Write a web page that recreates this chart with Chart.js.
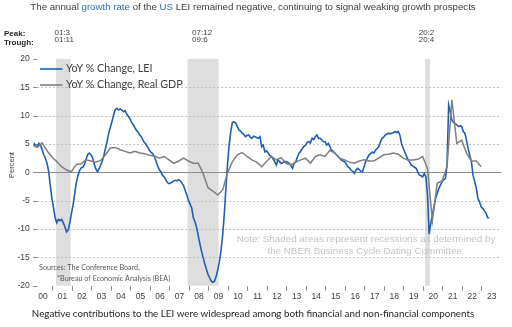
<!DOCTYPE html>
<html>
<head>
<meta charset="utf-8">
<script src="https://cdn.jsdelivr.net/npm/chart.js@4.4.1/dist/chart.umd.min.js"></script>
<style>
  html, body { margin: 0; padding: 0; background: #ffffff; }
  canvas { display: block; }
</style>
</head>
<body>
<canvas id="chart" width="512" height="327"></canvas>
<script>
// US LEI, year-over-year % change, monthly from Jan 2000 (one row per year)
const leiYoY = [
  5.2, 4.6, 4.6, 5.1, 4.8, 4.0, 3.1, 2.5, 1.6, 0.2, -2.3, -4.6,
  -6.2, -8.0, -8.9, -8.3, -8.5, -8.3, -8.9, -9.6, -10.5, -10.2, -8.9, -7.3,
  -5.8, -3.8, -1.8, -0.6, 0.3, 0.8, 0.9, 1.4, 2.3, 3.1, 3.4, 3.1,
  2.6, 1.5, 0.6, 0.1, 0.6, 1.3, 2.0, 3.0, 4.3, 5.5, 7.0, 8.0,
  9.0, 10.2, 11.1, 11.3, 11.0, 11.2, 11.0, 10.7, 10.9, 10.3, 9.9, 9.5,
  8.8, 8.4, 7.9, 7.4, 7.1, 6.6, 6.3, 5.7, 5.2, 4.9, 4.4, 3.9,
  3.5, 3.3, 2.8, 2.0, 1.2, 0.5, 0.1, -0.5, -0.8, -1.3, -1.8, -2.0,
  -1.9, -1.7, -1.5, -1.4, -1.5, -1.3, -1.5, -1.9, -2.4, -3.2, -4.0, -5.0,
  -5.6, -6.3, -8.0, -8.7, -9.7, -11.2, -12.6, -13.9, -15.0, -16.1, -17.1, -18.0,
  -18.6, -19.2, -19.4, -19.2, -18.4, -17.2, -15.8, -13.8, -11.1, -7.5, -2.8, 1.3,
  4.8, 7.2, 8.8, 8.9, 8.7, 8.1, 7.5, 7.3, 6.9, 6.7, 6.3, 6.5,
  6.6, 6.2, 6.0, 6.4, 6.3, 6.1, 6.0, 6.3, 4.5, 4.8, 3.6, 3.8,
  3.4, 3.0, 2.8, 2.4, 1.9, 1.3, 2.2, 1.9, 1.6, 1.7, 1.9, 1.9,
  1.8, 1.6, 1.2, 0.7, 1.6, 1.9, 2.7, 3.4, 3.7, 4.2, 4.6, 4.8,
  5.3, 5.4, 5.2, 6.0, 5.8, 6.3, 6.6, 6.0, 6.0, 5.7, 5.4, 5.4,
  4.8, 5.1, 4.5, 3.9, 3.7, 3.4, 3.1, 2.8, 2.5, 2.2, 2.0, 1.9,
  1.5, 1.0, 0.8, 0.4, 0.2, -0.2, 0.4, 0.7, 0.5, 0.2, 0.1, 1.0,
  1.9, 2.5, 3.1, 3.3, 3.6, 3.4, 3.9, 4.2, 4.5, 5.3, 6.0, 6.2,
  6.6, 6.7, 6.9, 6.8, 6.9, 7.0, 7.2, 7.0, 7.2, 6.6, 5.1, 4.3,
  3.6, 2.9, 2.2, 1.8, 1.3, 1.1, 0.9, 0.7, 0.1, -0.5, -0.6, -0.8,
  -0.2, -0.8, -4.0, -10.9, -9.0, -7.5, -6.0, -4.6, -3.7, -2.8, -2.2, -1.6,
  -1.3, -1.1, 1.3, 11.9, 10.7, 9.2, 8.8, 8.6, 8.4, 8.1, 8.2, 8.1,
  7.2, 6.9, 5.6, 4.2, 3.0, 1.9, -0.5, -1.6, -2.8, -4.6, -5.2, -6.1,
  -6.4, -6.8, -7.2, -8.0, -8.0
];
const leiStartYear = 2000;

// Real GDP, year-over-year % change, quarterly from 1999 Q4 (one row per year)
const gdpYoY = [
  4.8,
  4.4, 5.2, 3.8, 2.7,
  1.9, 1.0, 0.4, 0.1,
  1.4, 1.5, 2.2, 2.0,
  1.8, 2.1, 3.1, 4.3,
  4.4, 4.0, 3.7, 3.4,
  3.7, 3.4, 3.3, 3.0,
  2.9, 2.5, 2.8, 2.2,
  1.6, 2.0, 2.5, 2.0,
  1.6, 1.6, -0.2, -2.7,
  -3.3, -4.0, -3.1, -0.1,
  1.9, 3.1, 3.5, 2.8,
  2.2, 1.8, 1.0, 1.9,
  2.8, 2.2, 2.6, 1.6,
  1.3, 1.8, 2.2, 2.5,
  1.6, 2.8, 3.1, 2.8,
  3.9, 3.4, 2.5, 2.2,
  1.8, 1.6, 2.0, 2.2,
  2.0, 2.0, 2.5, 3.1,
  3.2, 3.4, 3.2, 2.5,
  2.2, 2.2, 2.3, 2.8,
  0.7, -8.5, -1.9, -1.5,
  1.0, 12.8, 5.1, 5.7,
  3.4, 2.0, 2.0, 1.0
];
const gdpStartYear = 1999;
const gdpStartQuarter = 4;

// NBER business-cycle dates, "yy:month"
const recessionPeaks = ['01:3', '07:12', '20:2'];
const recessionTroughs = ['01:11', '09:6', '20:4'];

const yearLabels = ['00','01','02','03','04','05','06','07','08','09','10','11',
                    '12','13','14','15','16','17','18','19','20','21','22','23'];
const percentTicks = [-20, -15, -10, -5, 0, 5, 10, 15, 20];

const seriesNames = ['YoY % Change, LEI', 'YoY % Change, Real GDP'];
const seriesColors = ['#1f5fb0', '#7f7f7f'];

const titleParts = [
  ['The annual ', '#404040'],
  ['growth rate', '#2f6db5'],
  [' of the ', '#404040'],
  ['US', '#2f6db5'],
  [' LEI remained negative, continuing to signal weaking growth prospects', '#404040']
];
const footerText = 'Negative contributions to the LEI were widespread among both financial and non-financial components';
const noteLines = ['Note: Shaded areas represent recessions as determined by',
                   'the NBER Business Cycle Dating Committee.'];
const sourceLines = ['Sources: The Conference Board,', '*Bureau of Economic Analysis (BEA)'];

// month index -> decimal year at the middle of that month
const leiPoints = leiYoY.map((v, i) => ({ x: leiStartYear + (i + 0.5) / 12, y: v }));
// quarterly values sit on the last month of each quarter
const gdpPoints = gdpYoY.map((v, i) => {
  const m = (gdpStartQuarter - 1) * 3 + i * 3 + 2; // months after Jan of start year
  return { x: gdpStartYear + (m + 0.5) / 12, y: v };
});

function cycleDate(s, endOfMonth) {
  const [yy, mm] = s.split(':').map(Number);
  return 2000 + yy + (mm - (endOfMonth ? 0 : 1)) / 12;
}

const SANS = '"Liberation Sans", Arial, sans-serif';
const SOFT = 'Lato, "Open Sans", sans-serif';

const decorations = {
  id: 'decorations',
  beforeDatasetsDraw(chart) {
    const { ctx, chartArea: a, scales: { x, y } } = chart;
    ctx.save();
    // recession bands
    ctx.fillStyle = '#dedede';
    recessionPeaks.forEach((p, i) => {
      const x0 = x.getPixelForValue(cycleDate(p, false));
      const x1 = x.getPixelForValue(cycleDate(recessionTroughs[i], true));
      ctx.fillRect(x0, a.top, x1 - x0, a.bottom - a.top);
    });
    // horizontal grid: dashed, with a solid zero line
    percentTicks.forEach(v => {
      if (v === 20 || v === -20) return;
      const py = Math.round(y.getPixelForValue(v)) + 0.5;
      ctx.beginPath();
      ctx.lineWidth = 1;
      if (v === 0) { ctx.setLineDash([]); ctx.strokeStyle = '#8c8c8c'; }
      else { ctx.setLineDash([2, 2]); ctx.strokeStyle = '#c0c0c0'; }
      ctx.moveTo(a.left, py);
      ctx.lineTo(a.right, py);
      ctx.stroke();
    });
    // short tick marks beside the percent labels
    ctx.setLineDash([]);
    ctx.strokeStyle = '#8c8c8c';
    percentTicks.forEach(v => {
      const py = Math.round(y.getPixelForValue(v)) + 0.5;
      ctx.beginPath();
      ctx.moveTo(a.left, py);
      ctx.lineTo(a.left + 4, py);
      ctx.stroke();
    });
    ctx.restore();
  },
  afterDraw(chart) {
    const { ctx, scales: { x } } = chart;
    ctx.save();
    ctx.textBaseline = 'middle';

    // title with highlighted words
    ctx.font = '9.7px ' + SANS;
    const total = titleParts.reduce((s, p) => s + ctx.measureText(p[0]).width, 0);
    let tx = 253 - total / 2;
    titleParts.forEach(([t, c]) => {
      ctx.fillStyle = c;
      ctx.textAlign = 'left';
      ctx.fillText(t, tx, 7.5);
      tx += ctx.measureText(t).width;
    });

    // peak / trough header
    ctx.fillStyle = '#262626';
    ctx.font = 'bold 8px ' + SANS;
    ctx.fillText('Peak:', 4, 34);
    ctx.fillText('Trough:', 4, 42.5);
    ctx.font = '8px ' + SANS;
    ctx.fillStyle = '#404040';
    recessionPeaks.forEach((p, i) => {
      const x0 = x.getPixelForValue(cycleDate(p, false));
      const x1 = x.getPixelForValue(cycleDate(recessionTroughs[i], true));
      const left = (x0 + x1) / 2 - ctx.measureText(p).width / 2 - 1;
      ctx.fillText(p, left, 33);
      ctx.fillText(recessionTroughs[i], left, 40);
    });

    // legend inside the plot
    ctx.font = '10.7px ' + SOFT;
    chart.data.datasets.forEach((ds, i) => {
      const ly = 69 + i * 16;
      ctx.strokeStyle = ds.borderColor;
      ctx.lineWidth = 1.6;
      ctx.beginPath();
      ctx.moveTo(40, ly);
      ctx.lineTo(62.5, ly);
      ctx.stroke();
      ctx.fillStyle = '#404040';
      ctx.fillText(ds.label, 66, ly);
    });

    // recession note
    ctx.font = '9.8px ' + SANS;
    ctx.fillStyle = '#c4c4c4';
    ctx.textAlign = 'center';
    ctx.fillText(noteLines[0], 366, 239);
    ctx.fillText(noteLines[1], 366, 251.5);

    // sources
    ctx.textAlign = 'left';
    ctx.font = '7.2px ' + SOFT;
    ctx.fillStyle = '#595959';
    ctx.fillText(sourceLines[0], 39, 268);
    ctx.fillText(sourceLines[1], 57, 279);

    // axis title
    ctx.save();
    ctx.translate(12, 165);
    ctx.rotate(-Math.PI / 2);
    ctx.textAlign = 'center';
    ctx.font = '7.5px ' + SANS;
    ctx.fillStyle = '#404040';
    ctx.fillText('Percent', 0, 0);
    ctx.restore();

    // footer
    ctx.textAlign = 'center';
    ctx.font = '9.8px ' + SOFT;
    ctx.fillStyle = '#262626';
    ctx.fillText(footerText, 253, 313.5);
    ctx.restore();
  }
};

new Chart(document.getElementById('chart'), {
  type: 'line',
  data: {
    datasets: [
      { label: seriesNames[0], data: leiPoints, borderColor: seriesColors[0], borderWidth: 1.6,
        pointRadius: 0, tension: 0, order: 2 },
      { label: seriesNames[1], data: gdpPoints, borderColor: seriesColors[1], borderWidth: 1.5,
        pointRadius: 0, tension: 0, order: 1 }
    ]
  },
  options: {
    responsive: false,
    devicePixelRatio: 1,
    animation: false,
    events: [],
    layout: { padding: { top: 59, right: 10.5, bottom: 0, left: 0 } },
    plugins: { legend: { display: false }, title: { display: false }, tooltip: { enabled: false } },
    scales: {
      x: {
        type: 'linear',
        min: 2000,
        max: 2024,
        afterFit(scale) { scale.height = 41.3; },
        afterBuildTicks(scale) { scale.ticks = yearLabels.map((_, i) => ({ value: leiStartYear + i })); },
        border: { display: false },
        grid: {
          display: true,
          drawOnChartArea: false,
          drawTicks: true,
          tickLength: 5,
          tickWidth: 1,
          tickColor: ctx => (ctx.tick && ctx.tick.value === leiStartYear) ? 'rgba(0,0,0,0)' : '#8c8c8c'
        },
        ticks: {
          autoSkip: false,
          maxRotation: 0,
          padding: 1,
          labelOffset: 9.75,
          color: '#404040',
          font: { family: SANS, size: 8.5 },
          callback: (v, i) => yearLabels[i]
        }
      },
      y: {
        min: -20,
        max: 20,
        afterFit(scale) { scale.width = 33.2; },
        afterBuildTicks(scale) { scale.ticks = percentTicks.map(v => ({ value: v })); },
        border: { display: false },
        grid: { display: false, drawTicks: false },
        ticks: {
          padding: 3.5,
          color: '#404040',
          font: { family: SANS, size: 8.5 },
          callback: v => String(v)
        }
      }
    }
  },
  plugins: [decorations]
});
</script>
</body>
</html>
